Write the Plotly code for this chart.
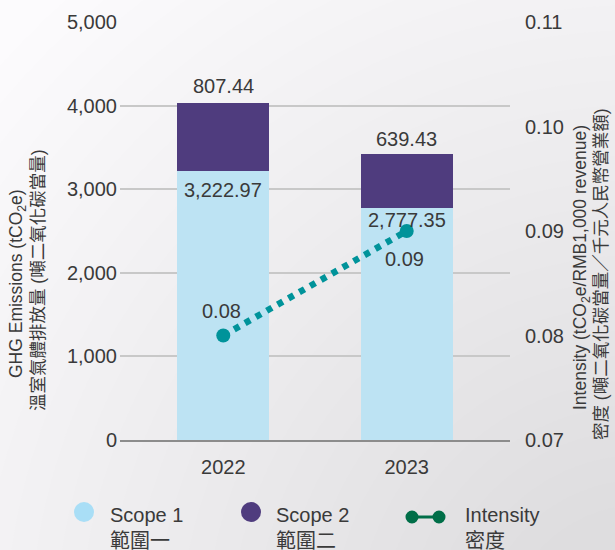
import plotly.graph_objects as go

years = ["2022", "2023"]
scope1 = [3222.97, 2777.35]
scope2 = [807.44, 639.43]
intensity = [0.08, 0.09]
scope1_labels = ["3,222.97", "2,777.35"]
scope2_labels = ["807.44", "639.43"]
intensity_labels = ["0.08", "0.09"]

FONT = "Liberation Sans, Arial, Noto Sans CJK TC, sans-serif"
TXT = "#3a3a3a"
C1 = "#bde3f3"
C1_LEG = "#a9def6"
C2 = "#4f3c7e"
C_INT = "#00939a"
C_LEG_INT = "#006e48"

# plot area in pixels
L, R, T, B = 120, 510, 22, 440
W, H = 615, 550


def px(x):
    return (x - L) / (R - L)


def py(y):
    return (B - y) / (B - T)


fig = go.Figure()
fig.add_trace(go.Bar(x=years, y=scope1, marker=dict(color=C1, line=dict(width=0)),
                     width=0.5, showlegend=False, hoverinfo="skip"))
fig.add_trace(go.Bar(x=years, y=scope2, marker=dict(color=C2, line=dict(width=0)),
                     width=0.5, showlegend=False, hoverinfo="skip"))
fig.add_trace(go.Scatter(x=years, y=intensity, yaxis="y2", mode="lines+markers",
                         line=dict(color=C_INT, width=6.5, dash="6px,6.5px"),
                         marker=dict(color=C_INT, size=14),
                         showlegend=False, hoverinfo="skip", cliponaxis=False))

lab_font = dict(size=20, color=TXT, family=FONT)
s1_shift = [-19, -12]
s2_shift = [17, 15]
int_shift = [25, -28]
annotations = []
for i in range(len(years)):
    annotations.append(dict(x=i, y=scope1[i] + scope2[i], xref="x", yref="y", text=scope2_labels[i],
                            showarrow=False, yanchor="middle", yshift=s2_shift[i], font=lab_font))
    annotations.append(dict(x=i, y=scope1[i], xref="x", yref="y", text=scope1_labels[i],
                            showarrow=False, yanchor="middle", yshift=s1_shift[i], font=lab_font))
    annotations.append(dict(x=i, y=intensity[i], xref="x", yref="y2", text=intensity_labels[i],
                            showarrow=False, yanchor="middle", yshift=int_shift[i], xshift=-2,
                            font=lab_font))

# axis titles
title_font = dict(size=17.5, color=TXT, family=FONT)
annotations += [
    dict(x=px(17), y=py(284), xref="paper", yref="paper", text="GHG Emissions (tCO<sub>2</sub>e)",
         textangle=-90, showarrow=False, xanchor="center", yanchor="middle", font=title_font),
    dict(x=px(38), y=py(280), xref="paper", yref="paper", text="溫室氣體排放量 (噸二氧化碳當量)",
         textangle=-90, showarrow=False, xanchor="center", yanchor="middle", font=title_font),
    dict(x=px(581), y=py(268), xref="paper", yref="paper", text="Intensity (tCO<sub>2</sub>e/RMB1,000 revenue)",
         textangle=-90, showarrow=False, xanchor="center", yanchor="middle", font=title_font),
    dict(x=px(601), y=py(274), xref="paper", yref="paper", text="密度 (噸二氧化碳當量／千元人民幣營業額)",
         textangle=-90, showarrow=False, xanchor="center", yanchor="middle", font=title_font),
]

# custom legend
leg_font = dict(size=20, color=TXT, family=FONT)
shapes = []
r = 10
for cx, col in [(84, C1_LEG), (251, C2)]:
    shapes.append(dict(type="circle", xref="paper", yref="paper",
                       x0=px(cx - r), x1=px(cx + r), y0=py(512 + r), y1=py(512 - r),
                       fillcolor=col, line=dict(width=0)))
shapes.append(dict(type="line", xref="paper", yref="paper", x0=px(412), x1=px(439), y0=py(517), y1=py(517),
                   line=dict(color=C_LEG_INT, width=3)))
for cx in (412, 439):
    shapes.append(dict(type="circle", xref="paper", yref="paper",
                       x0=px(cx - 6.5), x1=px(cx + 6.5), y0=py(517 + 6.5), y1=py(517 - 6.5),
                       fillcolor=C_LEG_INT, line=dict(width=0)))

for x0, t1, t2 in [(108, "Scope 1", "範圍一"), (274, "Scope 2", "範圍二"), (463, "Intensity", "密度")]:
    annotations.append(dict(x=px(x0), y=py(515), xref="paper", yref="paper", text=t1, showarrow=False,
                            xanchor="left", yanchor="middle", font=leg_font))
    annotations.append(dict(x=px(x0), y=py(541), xref="paper", yref="paper", text=t2, showarrow=False,
                            xanchor="left", yanchor="middle", font=leg_font))

# background gradient (soft radial toward bottom-right)
bg_shapes = []
cx, cy = 640, 640
n = 30
for k in range(n):
    rad = 860 - k * 25
    bg_shapes.append(dict(type="circle", xref="paper", yref="paper", layer="below",
                          x0=px(cx - rad), x1=px(cx + rad), y0=py(cy + rad), y1=py(cy - rad),
                          fillcolor="#8a82ad", opacity=0.011, line=dict(width=0)))

fig.update_layout(
    width=W, height=H,
    margin=dict(l=L, r=W - R, t=T, b=H - B, pad=0),
    barmode="stack",
    paper_bgcolor="#fcfbfd",
    plot_bgcolor="rgba(0,0,0,0)",
    font=dict(family=FONT, color=TXT, size=20),
    xaxis=dict(type="category", range=[-0.563, 1.563], showline=True, linecolor="#8c8c8c", linewidth=1.5,
               showgrid=False, ticks="", tickfont=dict(size=20, color=TXT), ticklabelstandoff=8,
               fixedrange=True),
    yaxis=dict(range=[0, 5000], dtick=1000, tickformat=",", showgrid=True, gridcolor="#c8c8c8",
               gridwidth=1.5, zeroline=False, ticks="", tickfont=dict(size=20, color=TXT),
               ticklabelstandoff=2),
    yaxis2=dict(range=[0.07, 0.11], dtick=0.01, tickformat=".2f", overlaying="y", side="right",
                showgrid=False, zeroline=False, ticks="", tickfont=dict(size=20, color=TXT),
                ticklabelstandoff=14),
    annotations=annotations,
    shapes=bg_shapes + shapes,
    showlegend=False,
)

fig.write_html("out.html")
